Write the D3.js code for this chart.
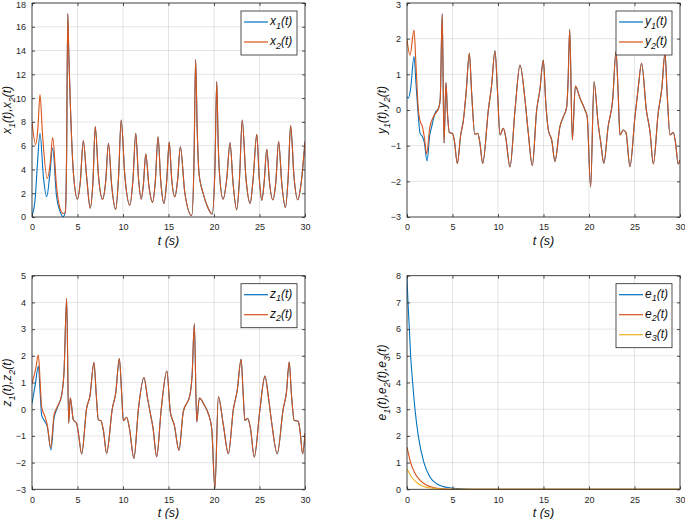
<!DOCTYPE html>
<html>
<head>
<meta charset="utf-8">
<script src="https://cdn.jsdelivr.net/npm/d3@7"></script>
<style>
  html, body { margin: 0; padding: 0; background: #fff; }
  svg { display: block; }
  text { font-family: "Liberation Sans", Arial, Helvetica, sans-serif; }
</style>
</head>
<body>
<svg id="chart" width="685" height="519"></svg>
<script>
// ---------------- DATA ----------------
const xTicks = [0, 5, 10, 15, 20, 25, 30];
const xTickLabels = ["0", "5", "10", "15", "20", "25", "30"];
const yTicksX = [0, 2, 4, 6, 8, 10, 12, 14, 16, 18];
const yTicksY = [-3, -2, -1, 0, 1, 2, 3];
const yTicksZ = [-3, -2, -1, 0, 1, 2, 3, 4, 5];
const yTicksE = [0, 1, 2, 3, 4, 5, 6, 7, 8];

// x2(t) (response) — [t, value]
const x2Data = [[0,8.0],[0.4,6.1],[0.65,7.5],[0.88,10.3],[1.15,7.0],[1.68,3.25],[2.0,4.5],[2.27,6.7],[2.7,2.55],[3.07,0.75],[3.43,0.3],[3.66,0.4],[3.8,5],[3.93,17.1],[4.05,13.5],[4.2,9.8],[4.55,3.7],[5.0,1.5],[5.3,2.9],[5.64,6.4],[6.0,3.4],[6.4,0.75],[6.7,3.0],[6.95,7.6],[7.3,3.5],[7.75,1.5],[8.1,3.0],[8.4,6.2],[8.75,2.7],[9.2,0.65],[9.5,3.2],[9.8,8.15],[10.2,3.5],[10.75,1.0],[11.1,3.2],[11.4,7.05],[11.7,3.3],[12.0,1.5],[12.25,2.8],[12.5,5.3],[12.85,2.6],[13.25,1.25],[13.55,3.0],[13.85,6.75],[14.15,3.0],[14.5,1.15],[14.8,3.0],[15.08,6.3],[15.35,3.2],[15.7,1.7],[16.0,3.1],[16.3,5.9],[16.8,2.0],[17.55,0.12],[17.8,4.5],[17.98,13.25],[18.15,7.5],[18.35,3.7],[18.8,2.0],[19.35,0.75],[19.8,0.25],[20.1,4.0],[20.3,11.4],[20.45,6.5],[20.6,3.7],[21.0,1.5],[21.4,3.2],[21.76,6.25],[22.1,2.8],[22.5,0.6],[22.8,3.2],[23.1,8.15],[23.5,3.4],[23.97,1.15],[24.3,3.2],[24.7,6.95],[24.98,3.2],[25.25,1.4],[25.52,3.0],[25.8,5.7],[26.1,2.9],[26.45,1.45],[26.8,3.0],[27.1,6.35],[27.45,2.8],[27.85,0.8],[28.15,3.3],[28.42,7.7],[28.8,3.3],[29.2,1.45],[29.6,3.0],[30,6.35]];
// x1(t) (drive) before synchronisation; afterwards equal to x2
const x1Early = [[0,0.15],[0.33,1.4],[0.6,4.5],[0.88,7.05],[1.25,3.4],[1.62,1.7],[1.95,3.5],[2.27,5.8],[2.7,1.7],[3.07,0.5],[3.43,0.03]];

const y2Data = [[0,1.98],[0.33,1.54],[0.77,2.24],[1.0,1.2],[1.25,0.0],[1.43,-0.3],[1.7,-0.47],[1.9,-0.75],[2.16,-1.23],[2.5,-0.5],[2.9,-0.19],[3.5,0.07],[3.65,0.3],[3.87,2.7],[4.07,-0.93],[4.28,0.77],[4.45,-0.1],[4.65,-0.63],[5.0,-0.66],[5.2,-0.85],[5.53,-1.5],[5.9,-0.7],[6.2,-0.28],[6.5,0.5],[6.85,1.59],[7.1,0.5],[7.45,-0.68],[7.77,-0.65],[8.0,-0.9],[8.32,-1.5],[8.94,0.0],[9.3,0.7],[9.67,1.66],[9.95,0.5],[10.22,-0.7],[10.59,-0.51],[10.84,-0.75],[11.32,-1.6],[11.87,0.0],[12.42,1.26],[12.97,0.28],[13.33,-0.65],[13.77,-1.56],[14.25,0.0],[14.6,0.56],[14.98,1.4],[15.25,0.2],[15.53,-0.56],[15.9,-0.84],[16.26,-1.44],[16.8,-0.47],[17.18,-0.19],[17.55,0.09],[17.7,0.8],[17.88,2.26],[18.17,-0.84],[18.5,0.67],[19.01,0.33],[19.56,0.0],[19.8,-0.19],[20.18,-2.16],[20.55,0.79],[21.0,-0.37],[21.3,-0.93],[21.63,-1.5],[22.1,-0.47],[22.6,0.28],[22.97,1.64],[23.2,0.5],[23.4,-0.7],[23.77,-0.56],[24.06,-0.63],[24.5,-1.59],[25.05,-0.19],[25.4,0.6],[25.78,1.31],[26.3,0.0],[26.7,-0.6],[27.07,-1.51],[27.6,-0.09],[28.0,0.6],[28.35,1.59],[28.6,0.4],[28.9,-0.7],[29.27,-0.63],[29.5,-0.9],[29.8,-1.51],[30,-1.4]];
const y1Early = [[0,0.37],[0.15,0.33],[0.4,0.6],[0.77,1.5],[1.0,0.7],[1.25,-0.19],[1.43,-0.65],[1.68,-0.74],[1.9,-0.9],[2.2,-1.43],[2.5,-0.7],[2.71,-0.47],[3.08,-0.09],[3.5,0.07]];

const z2Data = [[0,0.97],[0.4,1.5],[0.7,2.03],[0.9,1.0],[1.06,0.09],[1.43,-0.28],[1.68,-0.59],[2.05,-1.44],[2.42,-0.22],[2.78,0.09],[3.26,0.53],[3.52,1.4],[3.81,4.15],[4.03,-0.53],[4.21,0.43],[4.54,-0.4],[4.9,-0.53],[5.1,-0.9],[5.46,-1.68],[6.0,0.03],[6.37,0.5],[6.81,1.75],[7.05,0.6],[7.29,-0.4],[7.58,-0.43],[7.85,-0.8],[8.2,-1.65],[8.83,0.03],[9.2,0.6],[9.6,1.9],[9.85,0.6],[10.04,-0.43],[10.4,-0.3],[10.7,-0.7],[11.2,-1.84],[11.7,0.03],[12.3,1.19],[12.7,0.4],[13.04,-0.22],[13.3,-0.7],[13.7,-1.78],[14.2,0.0],[14.82,1.43],[15.2,-0.1],[15.64,-0.6],[16.15,-1.54],[16.62,-0.1],[17.35,0.52],[17.6,1.3],[17.84,3.2],[18.1,-0.48],[18.39,0.42],[18.94,0.15],[19.38,-0.17],[19.75,-0.73],[20.1,-2.98],[20.48,0.46],[21.03,-0.6],[21.58,-1.67],[22.13,0.0],[22.55,0.7],[22.98,1.87],[23.2,0.6],[23.4,-0.42],[23.7,-0.35],[24.0,-0.7],[24.43,-1.79],[25.05,0.0],[25.6,1.24],[26.0,0.4],[26.33,-0.48],[26.95,-1.67],[27.6,0.0],[27.95,0.6],[28.27,1.77],[28.5,0.6],[28.82,-0.42],[29.26,-0.45],[29.45,-0.8],[29.74,-1.67],[30,-0.9]];
const z1Early = [[0,0.22],[0.35,0.9],[0.7,1.62],[0.9,0.6],[1.06,-0.22],[1.43,-0.47],[1.68,-0.65],[2.09,-1.53],[2.42,-0.34],[2.78,0.05]];

const e1Data = [[0,7.9],[0.11,7.0],[0.26,6.0],[0.4,5.0],[0.62,4.0],[0.88,3.0],[1.24,2.0],[1.86,1.0],[2.52,0.46],[3.25,0.21],[4.0,0.1],[4.7,0.06],[5.5,0.03],[6.5,0.01],[8,0],[30,0]];
const e2Data = [[0,1.58],[0.4,1.0],[0.88,0.59],[1.42,0.34],[2.15,0.15],[3.0,0.06],[4.0,0.02],[5.5,0],[30,0]];
const e3Data = [[0,0.77],[0.5,0.46],[1.24,0.21],[1.97,0.09],[3.0,0.03],[4.5,0],[30,0]];

const seriesColors = ["#0072BD", "#D95319", "#EDB120"];

// ---------------- HELPERS ----------------
function joinTail(early, full) {
  const tEnd = early[early.length - 1][0];
  return early.concat(full.filter(d => d[0] > tEnd + 0.05));
}

function richText(sel, str, size, subSize) {
  let i = 0, buf = "";
  const parts = [];
  while (i < str.length) {
    if (str[i] === "_") {
      if (buf) parts.push({s: buf, sub: false});
      buf = "";
      parts.push({s: str[i + 1], sub: true});
      i += 2;
    } else { buf += str[i]; i++; }
  }
  if (buf) parts.push({s: buf, sub: false});
  let shifted = false;
  parts.forEach(p => {
    const ts = sel.append("tspan").text(p.s);
    if (p.sub) { ts.attr("font-size", subSize).attr("dy", size * 0.3); shifted = true; }
    else if (shifted) { ts.attr("dy", -size * 0.3); shifted = false; }
  });
}

const svg = d3.select("#chart");
const axisColor = "#262626";

const panels = [
  { l: 32, t: 3, r: 305, b: 217, yDom: [0, 18], yTicks: yTicksX, ylabel: "x_1(t),x_2(t)",
    series: [joinTail(x1Early, x2Data), x2Data], names: ["x_1(t)", "x_2(t)"] },
  { l: 407, t: 3, r: 680, b: 217, yDom: [-3, 3], yTicks: yTicksY, ylabel: "y_1(t),y_2(t)",
    series: [joinTail(y1Early, y2Data), y2Data], names: ["y_1(t)", "y_2(t)"] },
  { l: 32, t: 275.7, r: 305, b: 489.3, yDom: [-3, 5], yTicks: yTicksZ, ylabel: "z_1(t),z_2(t)",
    series: [joinTail(z1Early, z2Data), z2Data], names: ["z_1(t)", "z_2(t)"] },
  { l: 407, t: 275.7, r: 680, b: 489.3, yDom: [0, 8], yTicks: yTicksE, ylabel: "e_1(t),e_2(t),e_3(t)",
    series: [e1Data, e2Data, e3Data], names: ["e_1(t)", "e_2(t)", "e_3(t)"] }
];

panels.forEach((p, pi) => {
  const x = d3.scaleLinear().domain([0, 30]).range([p.l, p.r]);
  const y = d3.scaleLinear().domain(p.yDom).range([p.b, p.t]);
  const g = svg.append("g");

  g.append("g").selectAll("line").data(xTicks).join("line")
    .attr("x1", d => x(d)).attr("x2", d => x(d)).attr("y1", p.t).attr("y2", p.b)
    .attr("stroke", axisColor).attr("stroke-opacity", 0.12).attr("stroke-width", 1);
  g.append("g").selectAll("line").data(p.yTicks).join("line")
    .attr("y1", d => y(d)).attr("y2", d => y(d)).attr("x1", p.l).attr("x2", p.r)
    .attr("stroke", axisColor).attr("stroke-opacity", 0.12).attr("stroke-width", 1);

  const cid = "clip" + pi;
  svg.append("clipPath").attr("id", cid).append("rect")
    .attr("x", p.l).attr("y", p.t - 1).attr("width", p.r - p.l).attr("height", p.b - p.t + 2);

  const line = d3.line().x(d => x(d[0])).y(d => y(d[1])).curve(d3.curveMonotoneX);
  p.series.forEach((s, si) => {
    g.append("path").datum(s).attr("d", line)
      .attr("fill", "none").attr("stroke", seriesColors[si]).attr("stroke-width", 1.1)
      .attr("clip-path", `url(#${cid})`);
  });

  const tl = 3;
  const ax = (gen, tx, ty) => g.append("g").attr("transform", `translate(${tx},${ty})`).call(gen)
    .call(s => s.select(".domain").remove())
    .call(s => s.selectAll("line").attr("stroke", axisColor).attr("stroke-width", 0.8))
    .call(s => s.selectAll("text").attr("fill", axisColor).attr("font-size", 9).attr("font-family", "Liberation Sans, Arial, sans-serif"));

  ax(d3.axisBottom(x).tickValues(xTicks).tickFormat((d, i) => xTickLabels[i]).tickSizeInner(-tl).tickSizeOuter(0).tickPadding(7), 0, p.b);
  ax(d3.axisTop(x).tickValues(xTicks).tickFormat("").tickSizeInner(-tl).tickSizeOuter(0), 0, p.t);
  const yAx = ax(d3.axisLeft(y).tickValues(p.yTicks).tickFormat(d3.format("d")).tickSizeInner(-tl).tickSizeOuter(0).tickPadding(6), p.l, 0);
  // keep the topmost label inside the picture
  yAx.selectAll("text").filter(d => y(d) < 5).attr("dy", "0.45em");
  ax(d3.axisRight(y).tickValues(p.yTicks).tickFormat("").tickSizeInner(-tl).tickSizeOuter(0), p.r, 0);

  g.append("rect").attr("x", p.l).attr("y", p.t).attr("width", p.r - p.l).attr("height", p.b - p.t)
    .attr("fill", "none").attr("stroke", axisColor).attr("stroke-width", 0.8);

  g.append("text").attr("x", (p.l + p.r) / 2).attr("y", p.b + 28)
    .attr("text-anchor", "middle").attr("font-size", 12.5).attr("font-style", "italic").attr("fill", "#111")
    .text("t (s)");

  const yl = g.append("text")
    .attr("transform", `translate(${p.l - 21},${(p.t + p.b) / 2}) rotate(-90)`)
    .attr("text-anchor", "middle").attr("font-size", 12).attr("font-style", "italic").attr("fill", "#111");
  richText(yl, p.ylabel, 12, 9);

  const n = p.names.length;
  const lw = 56, lh = 4 + n * 20;
  const lx = p.r - 8 - lw, ly = p.t + 8;
  const lg = g.append("g");
  lg.append("rect").attr("x", lx).attr("y", ly).attr("width", lw).attr("height", lh)
    .attr("fill", "#fff").attr("stroke", axisColor).attr("stroke-width", 0.8);
  p.names.forEach((nm, i) => {
    const cy = ly + 11 + i * 20;
    lg.append("line").attr("x1", lx + 3).attr("x2", lx + 27).attr("y1", cy).attr("y2", cy)
      .attr("stroke", seriesColors[i]).attr("stroke-width", 1.2);
    const t = lg.append("text").attr("x", lx + 29).attr("y", cy + 3)
      .attr("font-size", 12).attr("font-style", "italic").attr("fill", "#111");
    richText(t, nm, 12, 9);
  });
});
</script>
</body>
</html>
